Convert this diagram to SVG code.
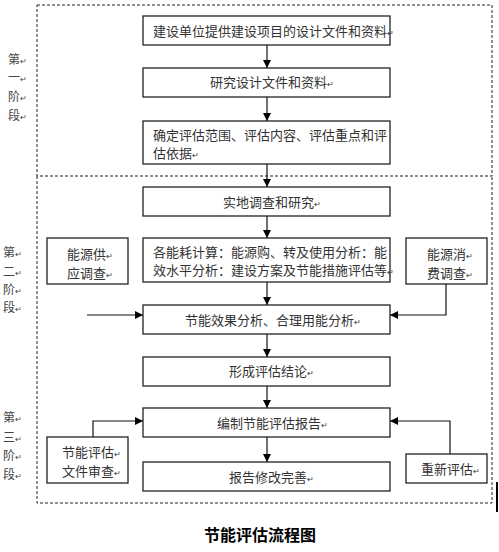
<svg xmlns="http://www.w3.org/2000/svg" width="499" height="552" viewBox="0 0 499 552">
<style>
.bg{fill:#fff}
.dash{fill:none;stroke:#222;stroke-width:1;stroke-dasharray:3,2}
.box{fill:#fff;stroke:#222;stroke-width:1.3}
.t{font-family:"Noto Sans CJK SC","Noto Sans",serif;font-size:13px;fill:#333}
.s{font-family:"Noto Sans CJK SC","Noto Sans",serif;font-size:12px;fill:#444}
.m{font-size:8px}
.ln{fill:none;stroke:#111;stroke-width:1.2}
.title{font-family:"Noto Sans CJK SC","Noto Sans",sans-serif;font-size:16px;font-weight:bold;fill:#000}
</style>
<defs>
<marker id="ah" viewBox="0 0 10 10" refX="10" refY="5" markerWidth="8" markerHeight="8" markerUnits="userSpaceOnUse" orient="auto">
<path d="M0,0 L10,5 L0,10 Z" fill="#000"/>
</marker>
</defs>
<rect class="bg" x="0" y="0" width="499" height="552"/>
<g id="stages">
<rect class="dash" x="37" y="5" width="455" height="171"/>
<path class="dash" d="M37,176 V503 H492 V176"/>
<line x1="497" y1="482" x2="497" y2="512" stroke="#000" stroke-width="2"/>
</g>
<g id="stage1-label">
<text class="s" x="8" y="64">第<tspan class="m">↵</tspan></text>
<text class="s" x="8" y="82">一<tspan class="m">↵</tspan></text>
<text class="s" x="8" y="101">阶<tspan class="m">↵</tspan></text>
<text class="s" x="8" y="120">段<tspan class="m">↵</tspan></text>
</g>
<g id="stage2-label">
<text class="s" x="3" y="257">第<tspan class="m">↵</tspan></text>
<text class="s" x="3" y="276">二<tspan class="m">↵</tspan></text>
<text class="s" x="3" y="294">阶<tspan class="m">↵</tspan></text>
<text class="s" x="3" y="312">段<tspan class="m">↵</tspan></text>
</g>
<g id="stage3-label">
<text class="s" x="3" y="422">第<tspan class="m">↵</tspan></text>
<text class="s" x="3" y="442">三<tspan class="m">↵</tspan></text>
<text class="s" x="3" y="460">阶<tspan class="m">↵</tspan></text>
<text class="s" x="3" y="479">段<tspan class="m">↵</tspan></text>
</g>
<g id="connectors">
<line class="ln" x1="267" y1="45" x2="267" y2="68" marker-end="url(#ah)"/>
<line class="ln" x1="267" y1="97" x2="267" y2="121" marker-end="url(#ah)"/>
<line class="ln" x1="267" y1="164" x2="267" y2="187" marker-end="url(#ah)"/>
<line class="ln" x1="267" y1="216" x2="267" y2="238" marker-end="url(#ah)"/>
<line class="ln" x1="267" y1="282" x2="267" y2="305" marker-end="url(#ah)"/>
<line class="ln" x1="267" y1="334" x2="267" y2="357" marker-end="url(#ah)"/>
<line class="ln" x1="267" y1="386" x2="267" y2="408" marker-end="url(#ah)"/>
<line class="ln" x1="267" y1="437" x2="267" y2="462" marker-end="url(#ah)"/>
<line class="ln" x1="87" y1="315" x2="143" y2="315" marker-end="url(#ah)"/>
<polyline class="ln" points="446,284 446,315 390,315" marker-end="url(#ah)"/>
<polyline class="ln" points="93,437 93,421 143,421" marker-end="url(#ah)"/>
<polyline class="ln" points="450,454 450,421 390,421" marker-end="url(#ah)"/>
</g>
<g id="n1">
<rect class="box" x="143" y="16" width="247" height="29"/>
<text class="t" x="153" y="36">建设单位提供建设项目的设计文件和资料<tspan class="m">↵</tspan></text>
</g>
<g id="n2">
<rect class="box" x="143" y="68" width="247" height="29"/>
<text class="t" x="210" y="87">研究设计文件和资料<tspan class="m">↵</tspan></text>
</g>
<g id="n3">
<rect class="box" x="143" y="121" width="247" height="43"/>
<text class="t" x="153" y="140">确定评估范围、评估内容、评估重点和评</text>
<text class="t" x="153" y="158">估依据<tspan class="m">↵</tspan></text>
</g>
<g id="n4">
<rect class="box" x="143" y="187" width="247" height="29"/>
<text class="t" x="223" y="207">实地调查和研究<tspan class="m">↵</tspan></text>
</g>
<g id="n5">
<rect class="box" x="143" y="238" width="247" height="44"/>
<text class="t" x="153" y="257">各能耗计算：能源购、转及使用分析：能</text>
<text class="t" x="153" y="275">效水平分析：建设方案及节能措施评估等<tspan class="m">↵</tspan></text>
</g>
<g id="n6">
<rect class="box" x="143" y="305" width="247" height="29"/>
<text class="t" x="185" y="325">节能效果分析、合理用能分析<tspan class="m">↵</tspan></text>
</g>
<g id="n7">
<rect class="box" x="143" y="357" width="247" height="29"/>
<text class="t" x="229" y="376">形成评估结论<tspan class="m">↵</tspan></text>
</g>
<g id="n8">
<rect class="box" x="143" y="408" width="247" height="29"/>
<text class="t" x="217" y="428">编制节能评估报告<tspan class="m">↵</tspan></text>
</g>
<g id="n9">
<rect class="box" x="143" y="462" width="247" height="29"/>
<text class="t" x="229" y="482">报告修改完善<tspan class="m">↵</tspan></text>
</g>
<g id="supply">
<rect class="box" x="47" y="238" width="81" height="46"/>
<text class="t" x="67" y="259">能源供<tspan class="m">↵</tspan></text>
<text class="t" x="67" y="278">应调查<tspan class="m">↵</tspan></text>
</g>
<g id="consume">
<rect class="box" x="406" y="238" width="81" height="46"/>
<text class="t" x="427" y="259">能源消<tspan class="m">↵</tspan></text>
<text class="t" x="427" y="278">费调查<tspan class="m">↵</tspan></text>
</g>
<g id="review">
<rect class="box" x="47" y="437" width="81" height="46"/>
<text class="t" x="62" y="457">节能评估<tspan class="m">↵</tspan></text>
<text class="t" x="62" y="476">文件审查<tspan class="m">↵</tspan></text>
</g>
<g id="reeval">
<rect class="box" x="406" y="454" width="81" height="29"/>
<text class="t" x="421" y="474">重新评估<tspan class="m">↵</tspan></text>
</g>
<text class="title" x="204" y="541">节能评估流程图</text>
</svg>
